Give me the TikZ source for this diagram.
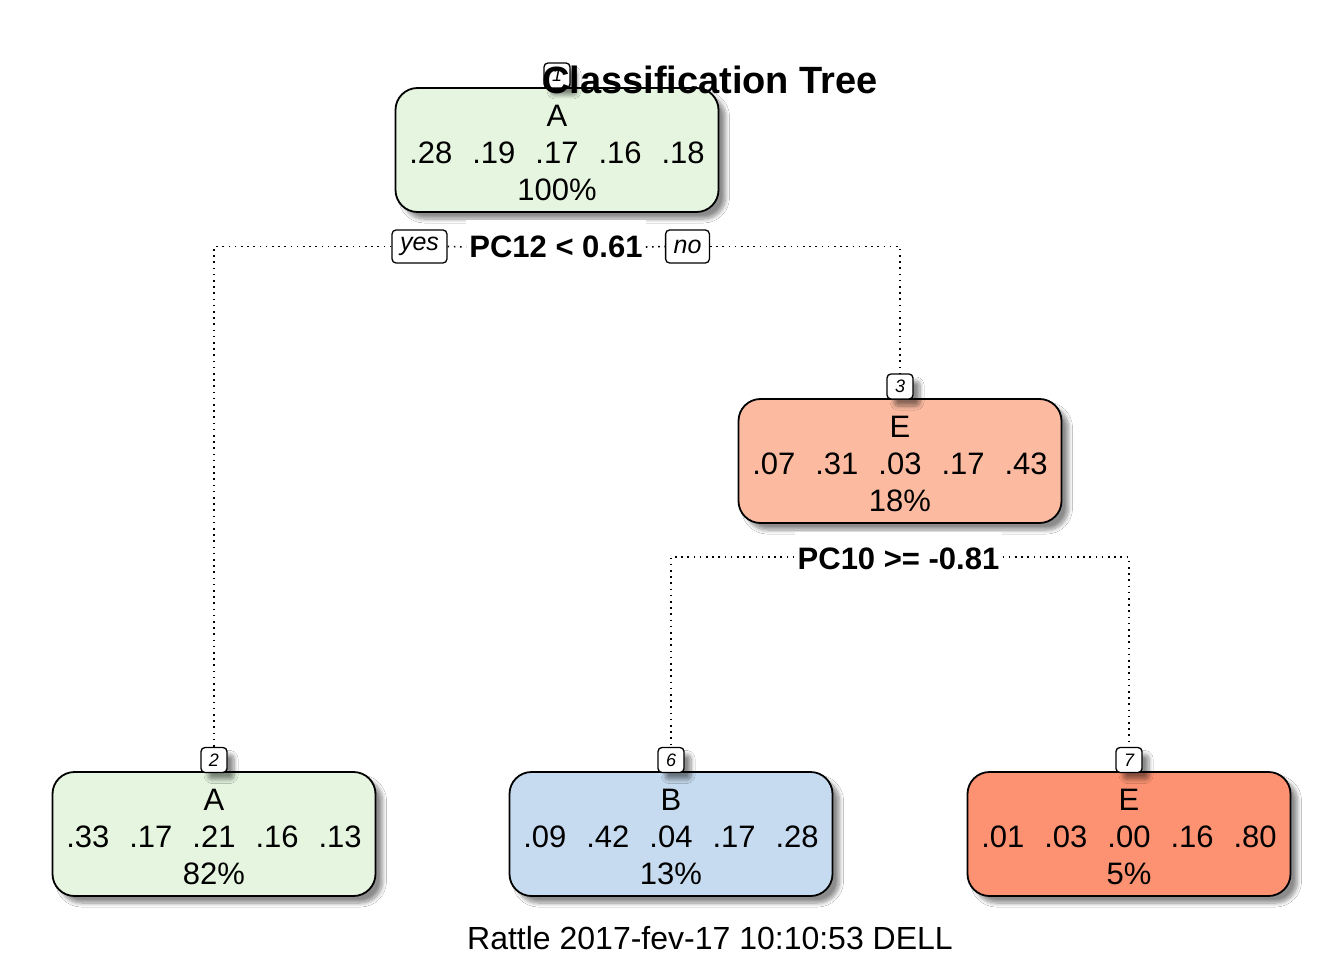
\documentclass[tikz,border=0pt]{standalone}
\usepackage{fontspec}
\setmainfont{Liberation Sans}
\usetikzlibrary{shadows.blur}

\definecolor{leafA}{HTML}{E5F5E0}
\definecolor{leafE}{HTML}{FCBBA1}
\definecolor{leafB}{HTML}{C6DBEF}
\definecolor{leafEE}{HTML}{FC9272}

% one row of class probabilities
\newcommand\probrow[5]{#1\hspace{20pt}#2\hspace{20pt}#3\hspace{20pt}#4\hspace{20pt}#5}
% three-line node text: class, probabilities, share of observations
\newcommand\leaftext[3]{\rule{0pt}{27pt}#1\\#2\\#3}

\tikzset{
  softshadow/.style={blur shadow={shadow xshift=7pt, shadow yshift=-7pt,
      shadow blur radius=4pt, shadow opacity=45, shadow blur steps=8}},
  treenode/.style={draw=black, line width=1.8pt, rounded corners=22pt,
      minimum width=323pt, minimum height=124pt, inner sep=0pt,
      align=center, softshadow,
      font=\fontsize{31}{37.2}\selectfont},
  idbox/.style={draw=black, line width=1.3pt, fill=white, rounded corners=4pt,
      minimum width=26pt, minimum height=25pt, inner sep=0pt, softshadow,
      font=\fontsize{18}{18}\selectfont\itshape},
  answer/.style={draw=black, line width=1.3pt, fill=white, rounded corners=4pt,
      minimum height=33pt, inner xsep=8pt, inner ysep=0pt,
      font=\fontsize{25}{25}\selectfont\itshape},
  splitlab/.style={fill=white, inner xsep=3pt, inner ysep=0pt, minimum height=54pt,
      font=\fontsize{31}{31}\selectfont\bfseries},
  dotline/.style={line width=1.6pt, dash pattern=on 1.6pt off 4.6pt, line cap=butt},
}

\begin{document}
\begin{tikzpicture}[x=1pt, y=-1pt]
  \useasboundingbox[fill=white] (0,0) rectangle (1344,960);

  % tree nodes
  \node[treenode, fill=leafA] (n1) at (557,150) {\leaftext{A}{\probrow{.28}{.19}{.17}{.16}{.18}}{100\%}};
  \node[treenode, fill=leafE] (n3) at (900,461) {\leaftext{E}{\probrow{.07}{.31}{.03}{.17}{.43}}{18\%}};
  \node[treenode, fill=leafA] (n2) at (214,834) {\leaftext{A}{\probrow{.33}{.17}{.21}{.16}{.13}}{82\%}};
  \node[treenode, fill=leafB] (n6) at (671,834) {\leaftext{B}{\probrow{.09}{.42}{.04}{.17}{.28}}{13\%}};
  \node[treenode, fill=leafEE] (n7) at (1129,834) {\leaftext{E}{\probrow{.01}{.03}{.00}{.16}{.80}}{5\%}};

  % node numbers
  \node[idbox] (id1) at (557,75.5) {1};
  \node[idbox] (id3) at (900,386.5) {3};
  \node[idbox] (id2) at (214,760) {2};
  \node[idbox] (id6) at (671,760) {6};
  \node[idbox] (id7) at (1129,760) {7};

  % split rules
  \node[splitlab] (s1) at (556,247) {PC12 < 0.61};
  \node[answer] (yes) at (419.5,246.5) {yes};
  \node[answer] (no) at (687.5,246.5) {no};
  \node[splitlab] (s3) at (898.5,559) {PC10 >= -0.81};

  % branches
  \draw[dotline] (yes.east) -- (s1.west);
  \draw[dotline] (s1.east) -- (no.west);
  \draw[dotline] (yes.west) -| (id2.north);
  \draw[dotline] (no.east) -| (id3.north);
  \draw[dotline] (s3.west |- 0,557) -| (id6.north);
  \draw[dotline] (s3.east |- 0,557) -| (id7.north);

  % title and caption
  \node[font=\fontsize{38}{38}\selectfont\bfseries] (title) at (710,80) {Classification Tree};
  \node[font=\fontsize{32}{32}\selectfont] (caption) at (710,938) {Rattle 2017-fev-17 10:10:53 DELL};
\end{tikzpicture}
\end{document}
